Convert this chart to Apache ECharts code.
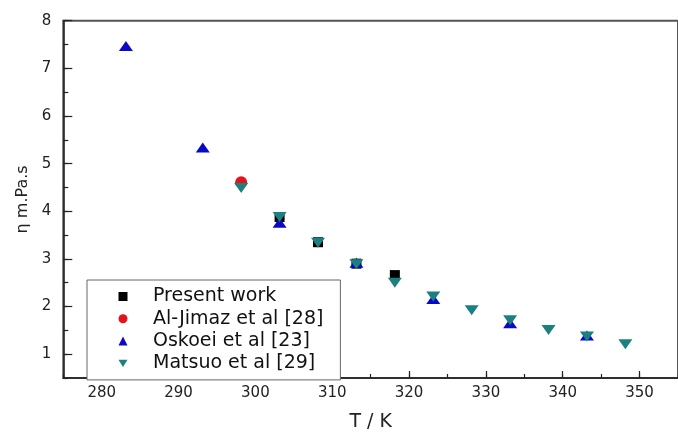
<!DOCTYPE html>
<html><head><meta charset="utf-8">
<script src="https://cdn.jsdelivr.net/npm/echarts@6/dist/echarts.min.js"></script>
<style>html,body{margin:0;padding:0;background:#fff}#c{width:678px;height:437px}</style>
</head><body><div id="c"></div>
<script>
const seriesNames = ['Present work', 'Al-Jimaz et al [28]', 'Oskoei et al [23]', 'Matsuo et al [29]'];
const presentT = [303.15, 308.15, 313.15, 318.15];
const presentEta = [3.88, 3.35, 2.90, 2.66];
const aljimazT = [298.15];
const aljimazEta = [4.61];
const oskoeiT = [283.15, 293.15, 303.15, 313.15, 323.15, 333.15, 343.15];
const oskoeiEta = [7.47, 5.34, 3.76, 2.92, 2.16, 1.65, 1.39];
const matsuoT = [298.15, 303.15, 308.15, 313.15, 318.15, 323.15, 328.15, 333.15, 338.15, 343.15, 348.15];
const matsuoEta = [4.49, 3.88, 3.34, 2.89, 2.50, 2.21, 1.92, 1.71, 1.51, 1.37, 1.21];
const xTickLabels = [280, 290, 300, 310, 320, 330, 340, 350];
const yTickLabels = [1, 2, 3, 4, 5, 6, 7, 8];

const FONT = 'DejaVu Sans';
const pairs = (xs, ys) => xs.map((x, i) => [x, ys[i]]);
const downTri = 'path://M0,0 L10,0 L5,8 Z';

const chart = echarts.init(document.getElementById('c'), null, {renderer: 'canvas'});
chart.setOption({
  animation: false,
  backgroundColor: '#fff',
  grid: {left: 63.3, top: 20.7, right: -10, bottom: 53, show: true,
         borderColor: '#555', borderWidth: 2, backgroundColor: 'transparent'},
  xAxis: [
    {type: 'value', min: 275, max: 355, interval: 5, position: 'bottom',
     name: 'T / K', nameLocation: 'middle', nameGap: 35,
     nameTextStyle: {fontFamily: FONT, fontSize: 19, color: '#222'},
     axisLine: {lineStyle: {color: '#222', width: 1.5}},
     axisTick: {inside: true, length: 4, lineStyle: {color: '#222', width: 1.2}},
     axisLabel: {customValues: xTickLabels, margin: 8, fontFamily: FONT, fontSize: 15, color: '#222'},
     splitLine: {show: false}},
    {type: 'value', min: 275, max: 355, position: 'bottom',
     axisLine: {show: false},
     axisTick: {inside: true, length: 7, customValues: xTickLabels, lineStyle: {color: '#222', width: 1.2}},
     axisLabel: {show: false}, splitLine: {show: false}}
  ],
  yAxis: [
    {type: 'value', min: 0.5, max: 8, interval: 0.5, position: 'left',
     name: 'η m.Pa.s', nameLocation: 'middle', nameGap: 30, nameRotate: 90,
     nameTextStyle: {fontFamily: FONT, fontSize: 16, color: '#222'},
     axisLine: {lineStyle: {color: '#222', width: 1.5}},
     axisTick: {inside: true, length: 5, lineStyle: {color: '#222', width: 1.2}},
     axisLabel: {customValues: yTickLabels, margin: 12, fontFamily: FONT, fontSize: 15, color: '#222'},
     splitLine: {show: false}},
    {type: 'value', min: 0.5, max: 8, position: 'left',
     axisLine: {show: false},
     axisTick: {inside: true, length: 9, customValues: yTickLabels, lineStyle: {color: '#222', width: 1.2}},
     axisLabel: {show: false}, splitLine: {show: false}}
  ],
  legend: {
    orient: 'vertical', left: 87, top: 280, padding: [7, 17, 7, 31.5], itemGap: 3.3,
    itemWidth: 9, itemHeight: 9, backgroundColor: '#fff', borderColor: '#666', borderWidth: 1,
    textStyle: {fontFamily: FONT, fontSize: 19, lineHeight: 18, color: '#111', padding: [0, 0, 0, 20.5]},
    data: seriesNames
  },
  series: [
    {name: seriesNames[0], type: 'scatter', symbol: 'rect', symbolSize: [10, 10],
     itemStyle: {color: '#000', opacity: 1}, data: pairs(presentT, presentEta)},
    {name: seriesNames[1], type: 'scatter', symbol: 'circle', symbolSize: 12,
     itemStyle: {color: '#e3141b', opacity: 1}, data: pairs(aljimazT, aljimazEta)},
    {name: seriesNames[2], type: 'scatter', symbol: 'triangle', symbolSize: [14, 10],
     itemStyle: {color: '#0a0ac4', opacity: 1}, data: pairs(oskoeiT, oskoeiEta)},
    {name: seriesNames[3], type: 'scatter', symbol: downTri, symbolSize: [14, 10],
     itemStyle: {color: '#1c8080', opacity: 1}, data: pairs(matsuoT, matsuoEta)}
  ]
});
</script>
</body></html>
